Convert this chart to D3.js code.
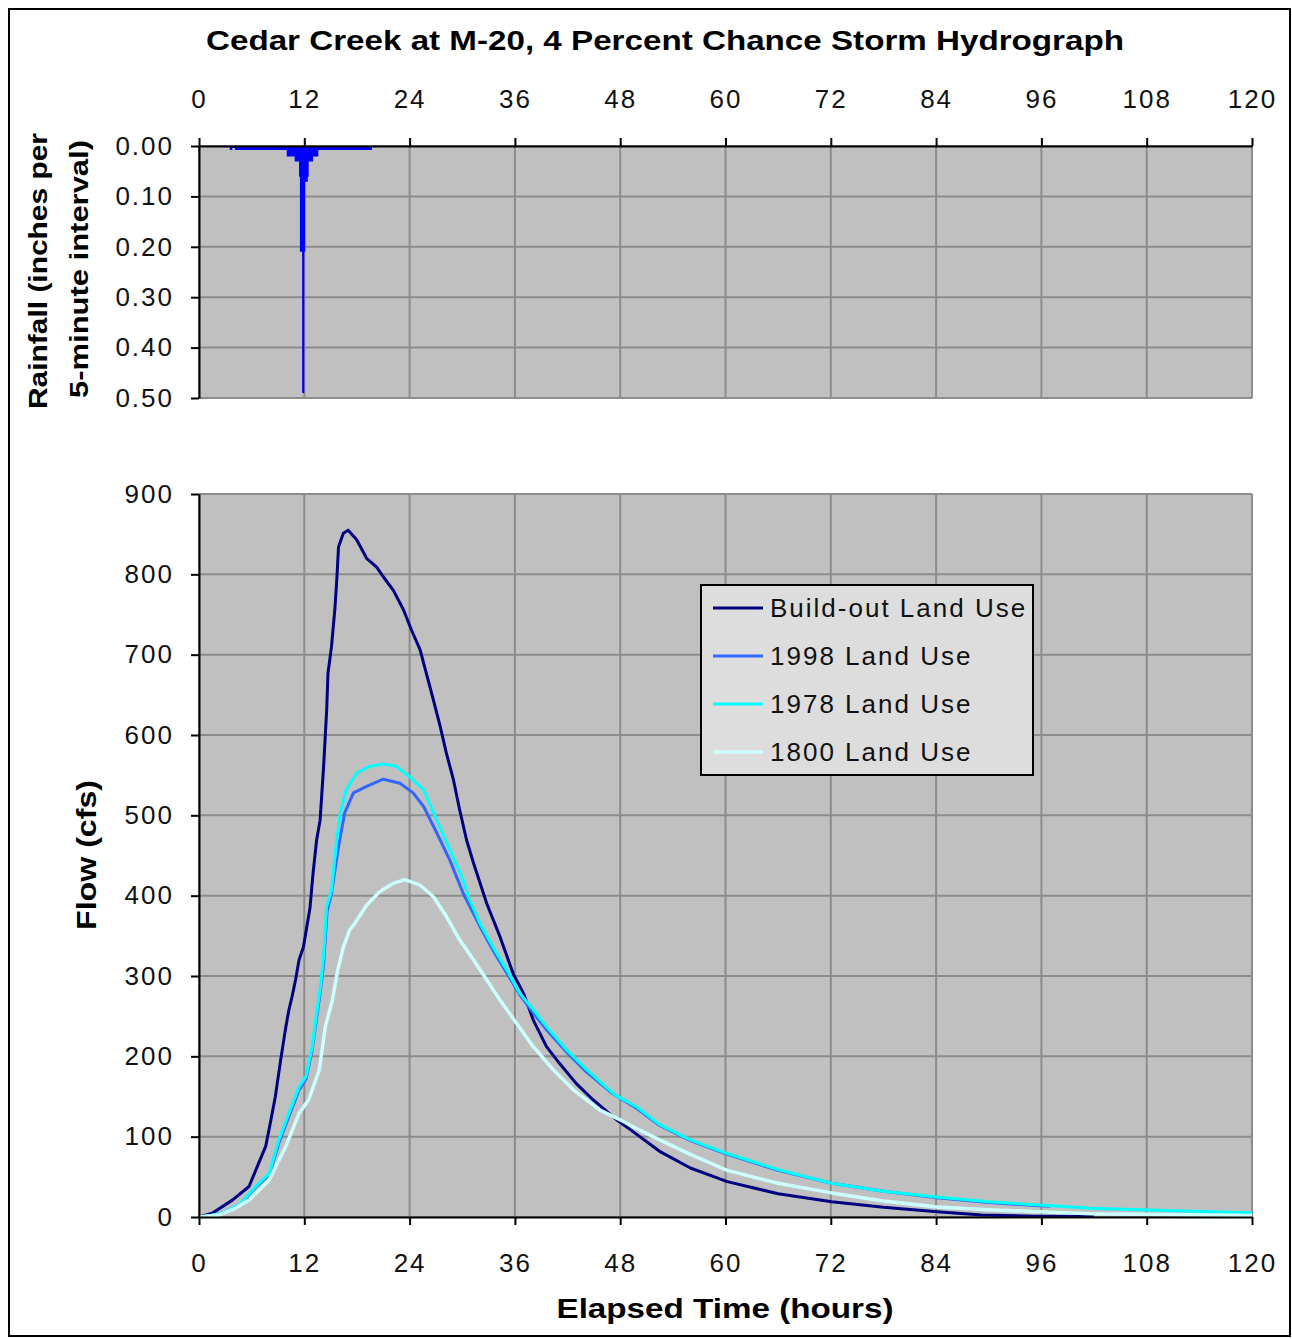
<!DOCTYPE html>
<html>
<head>
<meta charset="utf-8">
<script src="https://cdn.jsdelivr.net/npm/d3@7"></script>
<style>
  html, body { margin: 0; padding: 0; background: #fff; }
  svg { display: block; font-family: "Liberation Sans", Arial, sans-serif; }
</style>
</head>
<body>
<svg id="chart" width="1292" height="1339"></svg>
<script>
// ---- data ----
const hourTicks = [0, 12, 24, 36, 48, 60, 72, 84, 96, 108, 120];
const rainTicks = [0, 0.1, 0.2, 0.3, 0.4, 0.5];
const flowTicks = [0, 100, 200, 300, 400, 500, 600, 700, 800, 900];

// rainfall, [hour, inches per 5-min], step-after
const rainfall = [
  [3.5, 0.008], [3.8, 0.004], [4.1, 0.008], [10.0, 0.021], [10.9, 0.031],
  [11.4, 0.061], [11.5, 0.21], [11.75, 0.49], [12.0, 0.21], [12.1, 0.071],
  [12.4, 0.061], [12.5, 0.031], [13.0, 0.021], [13.6, 0.008], [19.7, 0]
];

// flows, [hour, cfs]
const buildOut = [
  [0, 0], [1.5, 4.6], [3.8, 21], [5.7, 38], [6.8, 67], [7.6, 88], [8.2, 121],
  [8.7, 150], [9.3, 195], [9.9, 237], [10.25, 258], [10.6, 274], [11.0, 295],
  [11.4, 320], [11.9, 336], [12.65, 385], [13.0, 428], [13.4, 469], [13.8, 494],
  [14.2, 561], [14.55, 631], [14.7, 677], [15.1, 710], [15.5, 759], [15.7, 793],
  [15.9, 834], [16.45, 851], [17.0, 855], [17.97, 843], [19.1, 820], [20.25, 809],
  [21.0, 797], [22.15, 780], [23.3, 756], [24.2, 731], [25.2, 706], [25.9, 677],
  [26.7, 644], [27.5, 610], [28.2, 577], [29.0, 544], [29.7, 507], [30.5, 469],
  [31.3, 440], [32.8, 390], [34.3, 349], [35.8, 303], [37.0, 278], [38.1, 245],
  [39.6, 212], [41.1, 191], [43.0, 166], [44.9, 146], [47.6, 121], [49.5, 106],
  [52.6, 81], [56, 61], [60.2, 44], [66, 29], [72.1, 19], [78, 12], [84.1, 6.6],
  [89.2, 2.5], [95, 1], [102, 0.5]
];
const lu1998 = [
  [0, 0], [1.3, 2], [2.7, 5], [4.7, 15], [6.45, 37], [8.0, 52], [9.1, 92], [10.1, 121],
  [11.4, 158], [12.2, 172], [12.9, 208], [13.3, 240], [13.85, 282], [14.2, 315],
  [14.6, 380], [15.1, 403], [15.9, 461], [16.6, 503], [17.6, 528], [19.1, 536],
  [21.0, 545], [22.9, 540], [24.4, 528], [25.6, 511], [27.1, 478], [28.6, 444],
  [30.1, 403], [32.0, 362], [33.5, 332], [35.1, 303], [36.6, 276], [38.1, 254],
  [39.6, 233], [41.9, 205], [44.2, 180], [47.2, 153], [49.9, 135], [52.5, 114],
  [56, 95], [60.2, 78], [66, 58], [72.1, 42], [78, 32], [84.1, 24], [90, 18],
  [95.8, 14], [97, 13.5]
];
const lu1978 = [
  [0, 0], [1.3, 2], [2.7, 5], [4.7, 16], [6.45, 38], [8.0, 54], [9.1, 96], [10.1, 125],
  [11.4, 162], [12.2, 175], [12.9, 212], [13.3, 245], [13.85, 287], [14.2, 325],
  [14.55, 386], [15.1, 407], [15.7, 469], [16.1, 503], [16.8, 532], [18.0, 553],
  [19.5, 561], [21.0, 564], [22.5, 561], [24.0, 548], [25.6, 532], [27.1, 494],
  [28.6, 457], [30.1, 420], [30.7, 399], [32.0, 366], [33.5, 336], [35.1, 307],
  [36.6, 278], [38.1, 258], [39.6, 237], [41.9, 208], [44.2, 183], [47.4, 152],
  [49.9, 137], [52.5, 115], [56, 96], [60.2, 79], [66, 59], [72.1, 42], [78, 32],
  [84.1, 25], [90, 19], [95.8, 15], [101.7, 11], [110, 8], [120, 5.4]
];
const lu1800 = [
  [0, 0], [2.3, 2.5], [4, 10], [5.7, 21], [8.0, 46], [9.9, 88], [11.4, 129],
  [12.5, 146], [13.7, 183], [14.4, 237], [15.2, 270], [15.8, 307], [16.45, 336],
  [17.2, 358], [17.6, 363], [19.1, 388], [20.6, 405], [22.1, 415], [23.45, 420],
  [25.2, 413], [26.7, 399], [28.2, 374], [29.7, 345], [31.3, 320], [32.8, 295],
  [34.3, 270], [36.2, 241], [38.1, 212], [40.4, 183], [42.7, 158], [45.7, 133],
  [48, 121], [49.5, 112], [52.5, 96], [56, 78], [60.2, 58], [66, 42], [72.1, 30],
  [78, 20], [84.1, 12.5], [90, 9], [95.8, 6.6], [101.7, 4], [110, 3], [120, 2]
];

const seriesNames = ["Build-out Land Use", "1998 Land Use", "1978 Land Use", "1800 Land Use"];
const seriesData = [buildOut, lu1998, lu1978, lu1800];
const seriesColors = ["#000080", "#3366ff", "#00ffff", "#ccffff"];
const seriesWidths = [3, 3, 3, 3.5];

// ---- layout ----
const svg = d3.select("#chart");
const plotBg = "#c0c0c0";
const gridColor = "#8c8c8c";
const fontSize = 26;

const x = d3.scaleLinear().domain([0, 120]).range([199, 1252]);
const yRain = d3.scaleLinear().domain([0, 0.5]).range([146, 398]);
const yFlow = d3.scaleLinear().domain([0, 900]).range([1217, 494]);

// outer frame
svg.append("rect")
  .attr("x", 9).attr("y", 9).attr("width", 1281).attr("height", 1327)
  .attr("fill", "#fff").attr("stroke", "#000").attr("stroke-width", 2);

// title
svg.append("text")
  .attr("x", 665).attr("y", 50)
  .attr("text-anchor", "middle")
  .attr("font-size", 28).attr("font-weight", "bold")
  .attr("textLength", 918).attr("lengthAdjust", "spacingAndGlyphs")
  .text("Cedar Creek at M-20, 4 Percent Chance Storm Hydrograph");

function drawPanel(y, ticks) {
  const [r0, r1] = y.range();
  const top = Math.min(r0, r1), bottom = Math.max(r0, r1);
  svg.append("rect")
    .attr("x", x(0)).attr("y", top)
    .attr("width", x(120) - x(0)).attr("height", bottom - top)
    .attr("fill", plotBg);
  const g = svg.append("g").attr("stroke", gridColor).attr("stroke-width", 2);
  g.selectAll("line.h").data(ticks).join("line")
    .attr("x1", x(0)).attr("x2", x(120))
    .attr("y1", d => y(d)).attr("y2", d => y(d));
  g.selectAll("line.v").data(hourTicks).join("line")
    .attr("y1", top).attr("y2", bottom)
    .attr("x1", d => x(d)).attr("x2", d => x(d));
}

function styleAxis(g) {
  g.attr("font-family", null).attr("font-size", fontSize);
  g.selectAll(".domain").attr("stroke", "#000").attr("stroke-width", 2);
  g.selectAll(".tick line").attr("stroke", "#000").attr("stroke-width", 2);
  g.selectAll(".tick text").attr("fill", "#111").attr("letter-spacing", "2px");
}

// ---- rainfall panel ----
drawPanel(yRain, rainTicks);

svg.append("path")
  .datum(rainfall)
  .attr("fill", "#0000ff")
  .attr("d", d3.area()
    .curve(d3.curveStepAfter)
    .x(d => x(d[0]))
    .y0(yRain(0))
    .y1(d => yRain(d[1]))
  );

svg.append("g")
  .attr("transform", `translate(0,${yRain(0)})`)
  .call(d3.axisTop(x).tickValues(hourTicks).tickSize(8).tickPadding(30).tickSizeOuter(0))
  .call(styleAxis);

svg.append("g")
  .attr("transform", `translate(${x(0)},0)`)
  .call(d3.axisLeft(yRain).tickValues(rainTicks).tickFormat(d3.format(".2f"))
    .tickSize(8).tickPadding(17).tickSizeOuter(0))
  .call(styleAxis);

svg.append("text")
  .attr("transform", "translate(47,271) rotate(-90)")
  .attr("text-anchor", "middle")
  .attr("font-size", 26).attr("font-weight", "bold")
  .attr("textLength", 276).attr("lengthAdjust", "spacingAndGlyphs")
  .text("Rainfall (inches per");
svg.append("text")
  .attr("transform", "translate(88,269) rotate(-90)")
  .attr("text-anchor", "middle")
  .attr("font-size", 26).attr("font-weight", "bold")
  .attr("textLength", 258).attr("lengthAdjust", "spacingAndGlyphs")
  .text("5-minute interval)");

// ---- flow panel ----
drawPanel(yFlow, flowTicks);

const line = d3.line().x(d => x(d[0])).y(d => yFlow(d[1]));
svg.append("g")
  .attr("fill", "none")
  .attr("stroke-linejoin", "round")
  .selectAll("path")
  .data(seriesData)
  .join("path")
  .attr("stroke", (d, i) => seriesColors[i])
  .attr("stroke-width", (d, i) => seriesWidths[i])
  .attr("d", line);

svg.append("g")
  .attr("transform", `translate(0,${yFlow(0)})`)
  .call(d3.axisBottom(x).tickValues(hourTicks).tickSize(8).tickPadding(29).tickSizeOuter(0))
  .call(styleAxis);

svg.append("g")
  .attr("transform", `translate(${x(0)},0)`)
  .call(d3.axisLeft(yFlow).tickValues(flowTicks).tickSize(8).tickPadding(17).tickSizeOuter(0))
  .call(styleAxis);

svg.append("text")
  .attr("transform", "translate(96,855) rotate(-90)")
  .attr("text-anchor", "middle")
  .attr("font-size", 28).attr("font-weight", "bold")
  .attr("textLength", 150).attr("lengthAdjust", "spacingAndGlyphs")
  .text("Flow (cfs)");

svg.append("text")
  .attr("x", 725).attr("y", 1318)
  .attr("text-anchor", "middle")
  .attr("font-size", 28).attr("font-weight", "bold")
  .attr("textLength", 337).attr("lengthAdjust", "spacingAndGlyphs")
  .text("Elapsed Time (hours)");

// ---- legend ----
const legend = svg.append("g").attr("transform", "translate(701,585)");
legend.append("rect")
  .attr("width", 332).attr("height", 190)
  .attr("fill", "#dddddd").attr("stroke", "#000").attr("stroke-width", 2);
const item = legend.selectAll("g.item").data(seriesNames).join("g")
  .attr("transform", (d, i) => `translate(0,${23 + i * 48})`);
item.append("line")
  .attr("x1", 12).attr("x2", 62)
  .attr("stroke", (d, i) => seriesColors[i])
  .attr("stroke-width", (d, i) => seriesWidths[i]);
item.append("text")
  .attr("x", 69).attr("y", 9)
  .attr("font-size", fontSize)
  .attr("letter-spacing", "2px")
  .attr("fill", "#111")
  .text(d => d);
</script>
</body>
</html>
